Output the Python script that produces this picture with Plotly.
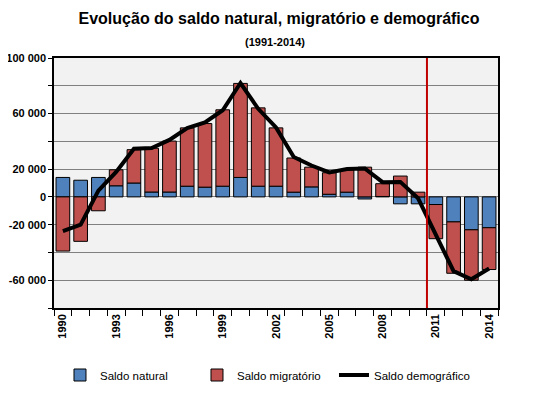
import plotly.graph_objects as go

years = list(range(1990, 2015))
saldo_natural = [14000, 12000, 14000, 8000, 10000, 3500, 3500, 7700, 7000, 7700,
                 14000, 7700, 7700, 3400, 7200, 1900, 3400, -1500, 300, -5000,
                 -5000, -5500, -18000, -23700, -22200]
saldo_migratorio = [-39000, -32000, -10000, 11500, 24000, 31500, 36700, 42000, 45800, 55000,
                    67700, 56400, 42000, 24600, 14200, 15500, 16100, 21400, 9200, 15000,
                    3400, -24600, -37000, -36300, -30100]
saldo_demografico = [-24600, -20000, 4500, 18000, 34700, 35200, 41000, 49600, 53700, 62400,
                     82000, 63400, 50000, 28700, 22600, 17600, 20000, 20500, 10600, 10800,
                     -1000, -28000, -53500, -59300, -51600]
x_tick_years = [1990, 1993, 1996, 1999, 2002, 2005, 2008, 2011, 2014]
y_tick_vals = [100000, 60000, 20000, 0, -20000, -60000]
y_tick_text = ["100 000", "60 000", "20 000", "0", "-20 000", "-60 000"]

FONT = "Liberation Sans, Arial, sans-serif"

fig = go.Figure()
fig.add_trace(go.Bar(x=years, y=saldo_natural, name="Saldo natural",
                     marker=dict(color="#4F81BD", line=dict(color="black", width=1)),
                     width=0.77))
fig.add_trace(go.Bar(x=years, y=saldo_migratorio, name="Saldo migratório",
                     marker=dict(color="#C0504D", line=dict(color="black", width=1)),
                     width=0.77))
fig.add_trace(go.Scatter(x=years, y=saldo_demografico, name="Saldo demográfico",
                         mode="lines", line=dict(color="black", width=4)))

fig.add_shape(type="line", x0=2010.5, x1=2010.5, y0=0, y1=1, yref="paper",
              line=dict(color="#C00000", width=2))

fig.update_layout(
    width=535, height=395,
    margin=dict(l=46, r=45, t=50, b=95, autoexpand=False),
    paper_bgcolor="white", plot_bgcolor="#F2F2F2",
    barmode="relative", bargap=0.23,
    font=dict(family=FONT, color="black"),
    title=dict(text="<b>Evolução do saldo natural, migratório e demográfico</b>",
               x=271 / 535, xanchor="center", xref="container",
               y=1 - 10.5 / 395, yanchor="middle", yref="container",
               font=dict(size=16, family=FONT, color="black")),
    annotations=[dict(text="<b>(1991-2014)</b>", x=(275 - 54) / 444, y=1 + (58 - 42.5) / 250,
                      xref="paper", yref="paper", showarrow=False,
                      xanchor="center", yanchor="middle",
                      font=dict(size=11, family=FONT, color="black"))],
    legend=dict(orientation="h", x=0.0135, xanchor="left", y=-0.268, yanchor="middle",
                font=dict(size=11.5, family=FONT, color="black"),
                entrywidth=92, bgcolor="rgba(0,0,0,0)"),
    showlegend=True,
)

fig.update_xaxes(range=[1989.5, 2014.5], tickmode="array", tickvals=x_tick_years,
                 ticktext=[str(y) for y in x_tick_years], tickangle=-90,
                 tickfont=dict(size=11, family=FONT, color="black", weight="bold"),
                 ticks="", showgrid=False, zeroline=False, automargin=False,
                 showline=True, linecolor="black", linewidth=1.5, mirror=True,
                 minor=dict(ticks="outside", ticklen=6, tickcolor="black",
                            tick0=1989.5, dtick=1, showgrid=False))
fig.update_yaxes(range=[-80000, 100000], tickmode="array", tickvals=y_tick_vals,
                 ticktext=y_tick_text, automargin=False,
                 tickfont=dict(size=11, family=FONT, color="black", weight="bold"),
                 ticks="outside", ticklen=4, tickcolor="black",
                 showgrid=True, gridcolor="#808080", gridwidth=1,
                 zeroline=False,
                 showline=True, linecolor="black", linewidth=1.5, mirror=True,
                 minor=dict(ticks="outside", ticklen=4, tickcolor="black",
                            tick0=0, dtick=20000, showgrid=True,
                            gridcolor="#808080", gridwidth=1))

fig.write_html("out.html")
